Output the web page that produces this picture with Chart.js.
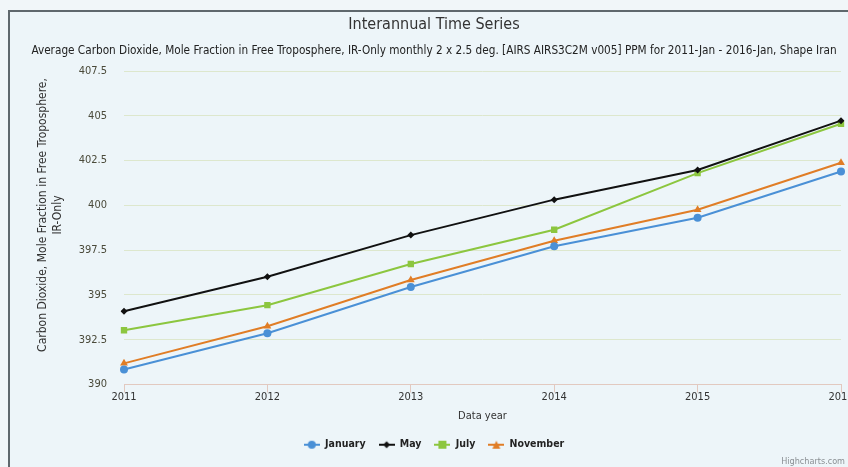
<!DOCTYPE html>
<html>
<head>
<meta charset="utf-8">
<script src="https://cdn.jsdelivr.net/npm/chart.js@4/dist/chart.umd.min.js"></script>
<style>
  html, body { margin: 0; padding: 0; background: #f1f6f9; }
  #wrap { width: 848px; height: 467px; position: relative; }
</style>
</head>
<body>
<div id="wrap"><canvas id="chart" width="848" height="467"></canvas></div>
<script>
// data
const years = ["2011", "2012", "2013", "2014", "2015", "2016"];
const january = [390.84, 392.86, 395.44, 397.72, 399.31, 401.89];
const may = [394.09, 396.02, 398.34, 400.32, 401.98, 404.73];
const july = [393.03, 394.43, 396.73, 398.64, 401.8, 404.56];
const november = [391.18, 393.25, 395.83, 398.02, 399.76, 402.38];
const yTicks = [390, 392.5, 395, 397.5, 400, 402.5, 405, 407.5];
const yTitle = ["Carbon Dioxide, Mole Fraction in Free Troposphere,", "IR-Only"];

const FONT = '"Liberation Sans Narrow", "DejaVu Sans Condensed", "Open Sans", sans-serif';

// legend symbol: short line with the marker on it
function legendSymbol(color, style) {
    const c = document.createElement("canvas");
    c.width = 16; c.height = 10;
    const g = c.getContext("2d");
    g.strokeStyle = color; g.fillStyle = color; g.lineWidth = 2;
    g.beginPath(); g.moveTo(0, 5); g.lineTo(16, 5); g.stroke();
    g.beginPath();
    if (style === "circle") g.arc(8, 5, 4, 0, Math.PI * 2);
    else if (style === "rect") g.rect(4, 1, 8, 8);
    else if (style === "rectRot") { g.moveTo(8, 1.5); g.lineTo(11.5, 5); g.lineTo(8, 8.5); g.lineTo(4.5, 5); }
    else { g.moveTo(8, 1); g.lineTo(12, 9); g.lineTo(4, 9); }
    g.closePath(); g.fill();
    return c;
}

function series(label, data, color, style, radius) {
    return {
        label, data,
        borderColor: color,
        backgroundColor: color,
        borderWidth: 2,
        pointStyle: style,
        pointRadius: radius,
        pointHoverRadius: radius,
        pointBorderWidth: 0,
        tension: 0,
        legendImg: legendSymbol(color, style)
    };
}

const backdrop = {
    id: "backdrop",
    beforeDraw(chart) {
        const ctx = chart.ctx;
        ctx.save();
        ctx.fillStyle = "#f1f6f9";
        ctx.fillRect(0, 0, 848, 467);
        ctx.fillStyle = "#edf5f9";
        ctx.fillRect(9, 11, 848, 467);
        ctx.strokeStyle = "#5f686d";
        ctx.lineWidth = 2;
        ctx.beginPath();
        ctx.moveTo(9, 467); ctx.lineTo(9, 11); ctx.lineTo(848, 11);
        ctx.stroke();
        ctx.restore();
    },
    afterDraw(chart) {
        const ctx = chart.ctx;
        ctx.save();
        // y axis title, two centred lines
        ctx.font = "12px " + FONT;
        ctx.fillStyle = "#333333";
        ctx.textAlign = "center";
        ctx.textBaseline = "middle";
        ctx.translate(43, 215);
        ctx.rotate(-Math.PI / 2);
        ctx.fillText(yTitle[0], 0, 0);
        ctx.fillText(yTitle[1], 0, 15);
        ctx.restore();

        ctx.save();
        ctx.font = "9px " + FONT;
        ctx.fillStyle = "#8a8f93";
        ctx.textAlign = "right";
        ctx.textBaseline = "middle";
        ctx.fillText("Highcharts.com", 845, 462);
        ctx.restore();
    }
};

new Chart(document.getElementById("chart"), {
    type: "line",
    data: {
        labels: years,
        datasets: [
            series("January", january, "#4a90d6", "circle", 4),
            series("May", may, "#111111", "rectRot", 3.5),
            series("July", july, "#8cc63f", "rect", 4.5),
            series("November", november, "#e07d26", "triangle", 4.5)
        ]
    },
    options: {
        responsive: false,
        animation: false,
        layout: { padding: { left: 27, right: 7, top: 0, bottom: 7 } },
        plugins: {
            title: {
                display: true,
                text: "Interannual Time Series",
                color: "#333333",
                font: { family: FONT, size: 16, weight: "normal" },
                padding: { top: 15, bottom: 0 }
            },
            subtitle: {
                display: true,
                text: "Average Carbon Dioxide, Mole Fraction in Free Troposphere, IR-Only monthly 2 x 2.5 deg. [AIRS AIRS3C2M v005] PPM for 2011-Jan - 2016-Jan, Shape Iran",
                color: "#222222",
                font: { family: FONT, size: 11.7 },
                padding: { top: 10, bottom: 12.8 }
            },
            legend: {
                position: "bottom",
                labels: {
                    font: { family: FONT, size: 10.5, weight: "bold" },
                    color: "#222222",
                    usePointStyle: true,
                    pointStyleWidth: 16,
                    padding: 13,
                    generateLabels(chart) {
                        return chart.data.datasets.map((d, i) => ({
                            text: d.label,
                            pointStyle: d.legendImg,
                            fillStyle: d.borderColor,
                            strokeStyle: d.borderColor,
                            lineWidth: 0,
                            hidden: false,
                            datasetIndex: i,
                            fontColor: "#222222"
                        }));
                    }
                }
            },
            tooltip: { enabled: false }
        },
        scales: {
            x: {
                offset: false,
                afterFit(scale) { scale.paddingLeft = 0; scale.paddingRight = 0; },
                grid: {
                    drawOnChartArea: false,
                    drawTicks: true,
                    tickLength: 8,
                    color: "#e2c9c0"
                },
                border: { color: "#e2c9c0", width: 1 },
                ticks: {
                    color: "#333333",
                    font: { family: FONT, size: 11 },
                    padding: -2,
                    maxRotation: 0
                },
                title: {
                    display: true,
                    text: "Data year",
                    color: "#333333",
                    font: { family: FONT, size: 11 },
                    padding: { top: 8, bottom: 3.6 }
                }
            },
            y: {
                min: 390,
                max: 407.5,
                afterBuildTicks(scale) {
                    scale.ticks = yTicks.map(v => ({ value: v }));
                },
                afterFit(scale) { scale.width = 124 - 27; },
                grid: { color: "#dde7cd", drawTicks: false },
                border: { display: false },
                ticks: {
                    color: "#4a4a3a",
                    font: { family: FONT, size: 11 },
                    padding: 17
                },
                title: { display: false }
            }
        }
    },
    plugins: [backdrop]
});
</script>
</body>
</html>
